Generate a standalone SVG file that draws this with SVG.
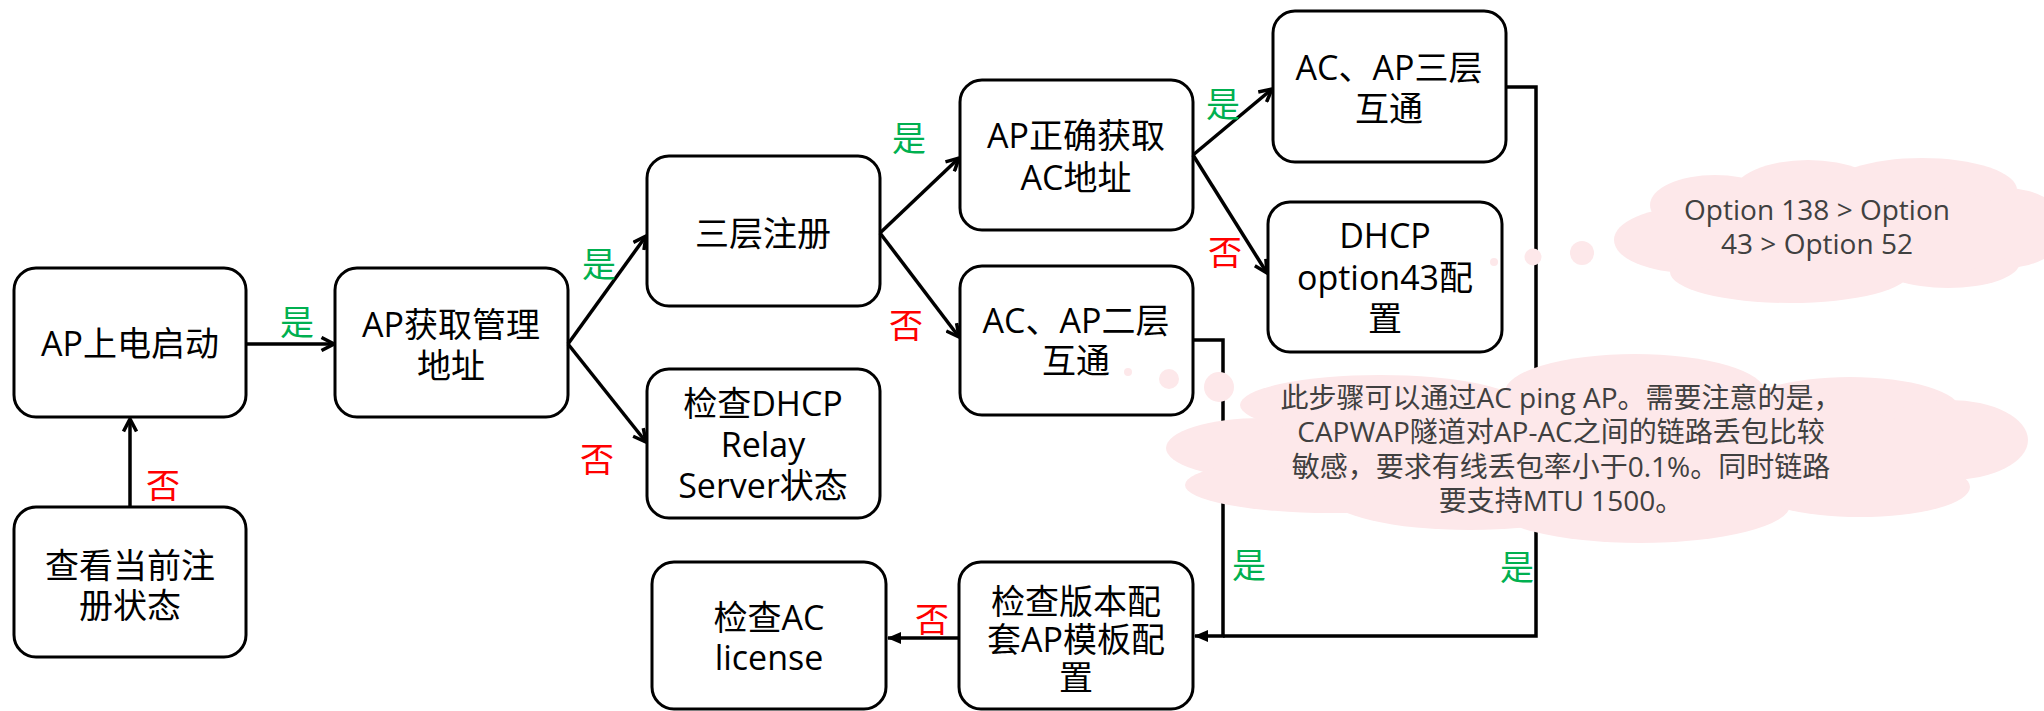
<svg xmlns="http://www.w3.org/2000/svg" width="2044" height="711" viewBox="0 0 2044 711">
<style>
.box{fill:#fff;stroke:#000;stroke-width:3}
.t{font-family:"Open Sans","Noto Sans CJK SC",sans-serif;font-size:34px;fill:#000;text-anchor:middle;dominant-baseline:central}
.c{fill:none;stroke:#000;stroke-width:3.5}
.yes{font-family:"Noto Sans CJK SC",sans-serif;font-size:34px;fill:#00B050;text-anchor:middle;dominant-baseline:central}
.no{font-family:"Noto Sans CJK SC",sans-serif;font-size:34px;fill:#FF0000;text-anchor:middle;dominant-baseline:central}
.cl{fill:#FDE8EA}
.ct{font-family:"Open Sans","Noto Sans CJK SC",sans-serif;font-size:28px;fill:#404040;text-anchor:middle;dominant-baseline:central}
</style>
<defs>
<marker id="open" viewBox="0 0 16 16" refX="14.5" refY="8" markerWidth="16" markerHeight="16" markerUnits="userSpaceOnUse" orient="auto">
<path d="M2,1.5 L14.5,8 L2,14.5" fill="none" stroke="#000" stroke-width="3.5"/>
</marker>
<marker id="fill" viewBox="0 0 14 14" refX="13" refY="7" markerWidth="14" markerHeight="14" markerUnits="userSpaceOnUse" orient="auto">
<path d="M0,1 L14,7 L0,13 z" fill="#000"/>
</marker>
</defs>
<rect width="2044" height="711" fill="#fff"/>

<g id="n1"><rect class="box" x="14" y="268" width="232" height="149" rx="22"/><text class="t" x="130" y="343">AP上电启动</text></g>
<g id="n2"><rect class="box" x="335" y="268" width="233" height="149" rx="22"/><text class="t" x="451" y="324">AP获取管理</text><text class="t" x="451" y="365">地址</text></g>
<g id="n3"><rect class="box" x="14" y="507" width="232" height="150" rx="22"/><text class="t" x="130" y="565">查看当前注</text><text class="t" x="130" y="605">册状态</text></g>
<g id="n4"><rect class="box" x="647" y="156" width="233" height="150" rx="22"/><text class="t" x="763" y="233">三层注册</text></g>
<g id="n5"><rect class="box" x="647" y="369" width="233" height="149" rx="22"/><text class="t" x="763" y="403">检查DHCP</text><text class="t" x="763" y="444">Relay</text><text class="t" x="763" y="485">Server状态</text></g>
<g id="n6"><rect class="box" x="960" y="80" width="233" height="150" rx="22"/><text class="t" x="1076" y="135">AP正确获取</text><text class="t" x="1076" y="177">AC地址</text></g>
<g id="n7"><rect class="box" x="960" y="266" width="233" height="149" rx="22"/><text class="t" x="1076" y="320">AC、AP二层</text><text class="t" x="1076" y="360">互通</text></g>
<g id="n8"><rect class="box" x="1273" y="11" width="233" height="151" rx="22"/><text class="t" x="1389" y="67">AC、AP三层</text><text class="t" x="1389" y="108">互通</text></g>
<g id="n9"><rect class="box" x="1268" y="202" width="234" height="150" rx="22"/><text class="t" x="1385" y="235">DHCP</text><text class="t" x="1385" y="277">option43配</text><text class="t" x="1385" y="318">置</text></g>
<g id="n10"><rect class="box" x="652" y="562" width="234" height="147" rx="22"/><text class="t" x="769" y="617">检查AC</text><text class="t" x="769" y="657">license</text></g>
<g id="n11"><rect class="box" x="959" y="562" width="234" height="147" rx="22"/><text class="t" x="1076" y="601">检查版本配</text><text class="t" x="1076" y="639">套AP模板配</text><text class="t" x="1076" y="677">置</text></g>

<g id="connectors">
<path class="c" d="M130,507 L130,419" marker-end="url(#open)"/>
<path class="c" d="M246,344 L334,344" marker-end="url(#open)"/>
<path class="c" d="M568,344 L646,236" marker-end="url(#open)"/>
<path class="c" d="M568,344 L646,442" marker-end="url(#open)"/>
<path class="c" d="M880,233 L959,158" marker-end="url(#open)"/>
<path class="c" d="M880,233 L959,337" marker-end="url(#open)"/>
<path class="c" d="M1193,155 L1272,89" marker-end="url(#open)"/>
<path class="c" d="M1193,155 L1267,273" marker-end="url(#open)"/>
<path class="c" d="M1193,340 L1223,340 L1223,636 L1195,636" marker-end="url(#fill)"/>
<path class="c" d="M1506,87 L1536,87 L1536,636 L1223,636"/>
<path class="c" d="M959,638 L888,638" marker-end="url(#fill)"/>
<text class="no" x="163" y="483">否</text>
<text class="yes" x="297" y="320">是</text>
<text class="yes" x="599" y="262">是</text>
<text class="no" x="597" y="457">否</text>
<text class="yes" x="909" y="136">是</text>
<text class="no" x="906" y="323">否</text>
<text class="yes" x="1223" y="102">是</text>
<text class="no" x="1225" y="250">否</text>
<text class="yes" x="1249" y="563">是</text>
<text class="yes" x="1517" y="565">是</text>
<text class="no" x="932" y="617">否</text>
</g>

<g id="cloud1">
<circle class="cl" cx="1494" cy="262" r="4"/>
<circle class="cl" cx="1533" cy="257" r="8.5"/>
<circle class="cl" cx="1582" cy="253" r="12"/>
<ellipse class="cl" cx="1690" cy="240" rx="76" ry="33"/>
<ellipse class="cl" cx="1715" cy="205" rx="65" ry="30"/>
<ellipse class="cl" cx="1808" cy="193" rx="75" ry="33"/>
<ellipse class="cl" cx="1922" cy="190" rx="95" ry="32"/>
<ellipse class="cl" cx="2005" cy="228" rx="62" ry="40"/>
<ellipse class="cl" cx="1790" cy="272" rx="120" ry="31"/>
<ellipse class="cl" cx="1948" cy="262" rx="72" ry="26"/>
<ellipse class="cl" cx="1840" cy="232" rx="190" ry="52"/>
<text class="ct" x="1817" y="209">Option 138 &gt; Option</text>
<text class="ct" x="1817" y="243">43 &gt; Option 52</text>
</g>

<g id="cloud2">
<circle class="cl" cx="1128" cy="372" r="4"/>
<circle class="cl" cx="1169" cy="379" r="10"/>
<circle class="cl" cx="1219" cy="387" r="15"/>
<ellipse class="cl" cx="1262" cy="448" rx="96" ry="30"/>
<ellipse class="cl" cx="1380" cy="405" rx="140" ry="30"/>
<ellipse class="cl" cx="1635" cy="392" rx="130" ry="38"/>
<ellipse class="cl" cx="1850" cy="410" rx="110" ry="33"/>
<ellipse class="cl" cx="1950" cy="440" rx="78" ry="40"/>
<ellipse class="cl" cx="1330" cy="485" rx="145" ry="28"/>
<ellipse class="cl" cx="1470" cy="497" rx="140" ry="33"/>
<ellipse class="cl" cx="1640" cy="505" rx="150" ry="38"/>
<ellipse class="cl" cx="1860" cy="487" rx="110" ry="30"/>
<ellipse class="cl" cx="1600" cy="450" rx="340" ry="62"/>
<text class="ct" x="1561" y="397">此步骤可以通过AC ping AP。需要注意的是，</text>
<text class="ct" x="1561" y="431">CAPWAP隧道对AP-AC之间的链路丢包比较</text>
<text class="ct" x="1561" y="466">敏感，要求有线丢包率小于0.1%。同时链路</text>
<text class="ct" x="1561" y="500">要支持MTU 1500。</text>
</g>
</svg>
